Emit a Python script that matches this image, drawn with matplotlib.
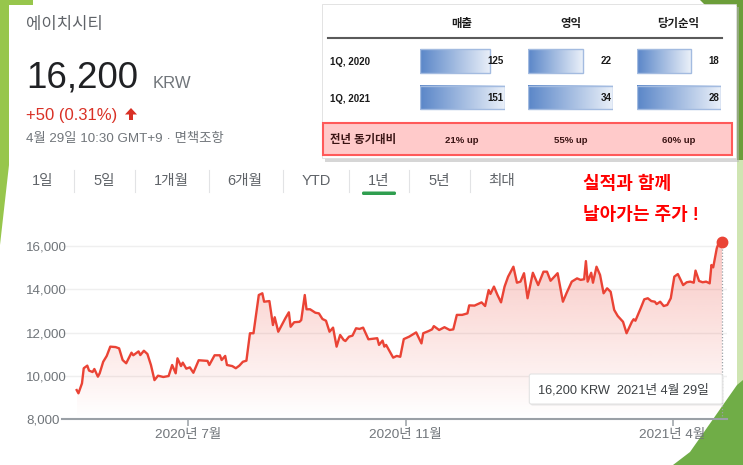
import numpy as np
import matplotlib
matplotlib.use("Agg")
import matplotlib.pyplot as plt
import matplotlib.dates as mdates
from matplotlib.transforms import Affine2D
from matplotlib.patches import Rectangle, Polygon, FancyBboxPatch
from matplotlib.colors import LinearSegmentedColormap, to_rgb
from matplotlib.lines import Line2D
import pandas as pd

# ---------------- data ----------------
company = "에이치시티"
last_price = "16,200"
currency = "KRW"
change_text = "+50 (0.31%)"
timestamp_text = "4월 29일 10:30 GMT+9 · 면책조항"
range_tabs = ["1일", "5일", "1개월", "6개월", "YTD", "1년", "5년", "최대"]
selected_tab = "1년"

start_date = "2020-04-29"
days_since_start = [
    0, 1, 3, 4, 6, 7, 9, 10, 12, 13,
    15, 17, 19, 22, 24, 26, 28, 31, 32, 35,
    36, 38, 40, 42, 44, 46, 49, 52, 54, 56,
    57, 59, 60, 62, 64, 66, 69, 74, 75, 78,
    81, 82, 84, 85, 88, 90, 92, 94, 96, 98,
    100, 103, 105, 106, 109, 111, 112, 114, 116, 118,
    120, 121, 123, 126, 127, 129, 130, 132, 135, 137,
    139, 141, 143, 145, 147, 149, 151, 152, 154, 156,
    158, 160, 162, 165, 170, 171, 173, 174, 175, 179,
    181, 183, 185, 188, 192, 195, 196, 199, 201, 202,
    205, 208, 211, 213, 215, 218, 221, 222, 225, 229,
    231, 233, 234, 236, 238, 240, 242, 244, 247, 249,
    251, 253, 255, 258, 261, 264, 266, 268, 272, 275,
    277, 280, 283, 285, 287, 288, 289, 291, 292, 294,
    296, 298, 300, 302, 304, 306, 309, 311, 314, 315,
    316, 319, 321, 323, 325, 327, 328, 330, 332, 334,
    336, 338, 340, 343, 345, 347, 349, 350, 352, 354,
    356, 358, 359, 360, 362, 363, 365,
]
prices = [
    9340, 9190, 9650, 10350, 10470, 10240, 10175, 10315, 9960, 10115,
    10650, 10920, 11350, 11330, 11270, 10730, 10580, 11070, 10950, 11130,
    10960, 11160, 11010, 10500, 9800, 10005, 9945, 9990, 10500, 10115,
    10810, 10450, 10610, 10330, 10390, 10140, 10720, 10690, 10500, 10950,
    10950, 10730, 10920, 10500, 10450, 10350, 10470, 10650, 10700, 11970,
    11970, 13740, 13820, 13430, 13460, 12350, 12710, 12040, 12350, 12660,
    12940, 12270, 12480, 12500, 12580, 13740, 13080, 13080, 12920, 12890,
    12630, 12550, 12040, 12230, 11350, 11890, 11660, 11610, 11810, 11860,
    12200, 12170, 12230, 11690, 11740, 11430, 11630, 11350, 11430, 10840,
    10920, 10880, 11700, 11810, 12010, 11500, 11970, 12070, 12150, 12300,
    12120, 12250, 12120, 12150, 12820, 12820, 12890, 13260, 13250, 13400,
    13230, 13970, 13790, 14130, 13740, 13400, 14130, 14590, 15050, 14310,
    14360, 14750, 13590, 14770, 14200, 14820, 14820, 14400, 14750, 13430,
    13820, 14360, 14510, 14440, 14470, 15310, 14360, 14770, 14310, 15050,
    14670, 13820, 14050, 13890, 13050, 12770, 12500, 11970, 12500, 12620,
    12550, 13130, 13540, 13590, 13460, 13430, 13320, 13430, 13230, 13280,
    13590, 14590, 14710, 14200, 14330, 14360, 14310, 14870, 14390, 14330,
    14360, 14280, 15130, 15020, 15900, 16130, 16200,
]

xtick_dates = ["2020-07-01", "2020-11-01", "2021-04-01"]
xtick_labels = ["2020년 7월", "2020년 11월", "2021년 4월"]
ytick_values = [8000, 10000, 12000, 14000, 16000]
tooltip_text = "16,200 KRW  2021년 4월 29일"

table_metrics = ["매출", "영익", "당기순익"]
table_periods = ["1Q, 2020", "1Q, 2021"]
sales = [125, 151]
op_income = [22, 34]
net_income = [18, 28]
yoy_label = "전년 동기대비"
yoy_growth = ["21% up", "55% up", "60% up"]
annotation_lines = ["실적과 함께", "날아가는 주가 !"]

# ---------------- setup ----------------
W, H = 743, 465
KFONT = ["Liberation Sans", "Noto Sans CJK KR"]
plt.rcParams["font.family"] = KFONT

fig = plt.figure(figsize=(W / 100, H / 100), dpi=100, facecolor="white")
pix = Affine2D().scale(1 / W, -1 / H).translate(0, 1) + fig.transFigure


def ftext(x, y, s, **kw):
    return fig.text(x, y, s, transform=pix, **kw)


def fpatch(p):
    p.set_transform(pix)
    fig.add_artist(p)
    return p


# ---------- slide decorations ----------
fpatch(Polygon([(0, 0), (33, 0), (33, 5), (9, 5), (9, 165), (0, 245)],
               closed=True, fc="#97c64c", ec="none", zorder=0))
fpatch(Polygon([(700, 0), (743, 0), (743, 160), (737, 160), (737, 6), (706, 6)],
               closed=True, fc="#6c9e3a", ec="none", zorder=0))
fpatch(Polygon([(737, 160), (743, 160), (743, 390), (737, 390)],
               closed=True, fc="#cfe5b2", ec="none", zorder=0))
fpatch(Polygon([(673, 465), (690, 452), (737, 385), (743, 380), (743, 465)],
               closed=True, fc="#70ad47", ec="none", zorder=0))

# ---------- header texts ----------
ftext(26, 25, company, fontsize=12, color="#5f6368", va="center")
ftext(26, 88, last_price, fontsize=26.5, color="#202124", va="baseline")
ftext(153, 88, currency, fontsize=12, color="#70757a", va="baseline")
ftext(26.5, 120, change_text, fontsize=12, color="#d93025", va="baseline")
fpatch(Polygon([(131, 108), (137, 114.5), (133, 114.5), (133, 120), (129, 120),
                (129, 114.5), (125, 114.5)], closed=True, fc="#d93025", ec="none"))
ftext(26.5, 138.5, timestamp_text, fontsize=9.6, color="#70757a", va="center")

# ---------- range tabs ----------
tab_x = [43, 104, 171.5, 245, 316, 379, 439.5, 502]
sep_x = [73.5, 135, 208.5, 283, 349, 409, 470]
for name, x in zip(range_tabs, tab_x):
    ftext(x, 181, name, fontsize=10.5, color="#5f6368", ha="center", va="center")
    if name == selected_tab:
        fpatch(FancyBboxPatch((x - 17, 191.5), 34, 3.5,
                              boxstyle="round,pad=0,rounding_size=1.5",
                              fc="#2f9e4f", ec="none"))
for x in sep_x:
    fig.add_artist(Line2D([x, x], [170, 192], transform=pix, color="#e2e3e5", lw=0.8))

# ---------- annotation ----------
ftext(583, 184, annotation_lines[0], fontsize=13, fontweight="bold",
      color="#ff0000", va="center")
ftext(583, 215, annotation_lines[1], fontsize=13, fontweight="bold",
      color="#ff0000", va="center")

# ---------- main price chart ----------
ax = fig.add_axes([62 / W, 1 - 419 / H, 665 / W, 189 / H])
dates = pd.Timestamp(start_date) + pd.to_timedelta(days_since_start, unit="D")
xn = mdates.date2num(dates.to_pydatetime())
line_color = "#ea4335"

fb = ax.fill_between(xn, prices, 8000, facecolor="none", edgecolor="none")
grad = np.zeros((256, 1, 4))
grad[..., :3] = to_rgb(line_color)
grad[:, 0, 3] = np.linspace(0.0, 0.30, 256)
im = ax.imshow(grad, extent=[xn[0], xn[-1], 8000, max(prices)], origin="lower",
               aspect="auto", zorder=2, interpolation="bilinear")
im.set_clip_path(fb.get_paths()[0], transform=ax.transData)

ax.plot(xn, prices, color=line_color, lw=1.7, solid_joinstyle="round", zorder=4)
ax.vlines(xn[-1], 8000, prices[-1], colors="#9aa0a6", linestyles=(0, (1, 1.5)),
          lw=0.9, zorder=3)
ax.plot([xn[-1]], [prices[-1]], "o", ms=7.5, color=line_color, zorder=5, clip_on=False)

start = pd.Timestamp(start_date)
ax.set_xlim(mdates.date2num(start - pd.Timedelta(days=8.3)),
            mdates.date2num(start + pd.Timedelta(days=367.8)))
ax.set_ylim(8000, 16750)

for s in ["top", "right", "left"]:
    ax.spines[s].set_visible(False)
ax.spines["bottom"].set_color("#9aa0a6")
ax.spines["bottom"].set_linewidth(1.5)
ax.spines["bottom"].set_zorder(6)

ax.set_yticks(ytick_values)
ax.set_yticklabels([f"{v:,}" for v in ytick_values])
ax.yaxis.grid(True, color="#efefef", lw=1)
ax.set_axisbelow(True)
ax.tick_params(axis="y", length=0, pad=25.9, labelsize=9.6, labelcolor="#70757a")
for t in ax.get_yticklabels():
    t.set_horizontalalignment("left")

ax.set_xticks(mdates.date2num(pd.to_datetime(xtick_dates).to_pydatetime()))
ax.set_xticklabels(xtick_labels)
ax.tick_params(axis="x", length=5, width=1.1, color="#9aa0a6", pad=2,
               labelsize=9.7, labelcolor="#70757a")
ax.patch.set_alpha(0)

# tooltip
fpatch(FancyBboxPatch((530.5, 375.5), 193, 30, boxstyle="round,pad=0,rounding_size=2",
                      fc="#d8d8d8", ec="none", alpha=0.6, zorder=7))
fpatch(FancyBboxPatch((529.3, 374), 193, 30, boxstyle="round,pad=0,rounding_size=2",
                      fc="white", ec="#e3e3e3", lw=0.8, zorder=8))
ftext(538.3, 390, tooltip_text, fontsize=9.2, color="#3c4043", va="center", zorder=9)

# ---------- table inset ----------
fpatch(Rectangle((325, 7), 414, 155, fc="#b5b5b5", ec="none", alpha=0.55, zorder=10))
fpatch(Rectangle((322, 4), 414, 154, fc="white", ec="#d8d8d8", lw=0.5, zorder=11))

col_centers = [461.7, 570.5, 678.5]
for name, cx in zip(table_metrics, col_centers):
    ftext(cx, 24, name, fontsize=8.2, fontweight="bold", color="#1a1a1a",
          ha="center", va="center", zorder=12)
fig.add_artist(Line2D([327.7, 722.3], [37.7, 37.7], transform=pix, color="#5a5a5a",
                      lw=1.5, zorder=12))
row_y = [62, 98.5]
for lbl, y in zip(table_periods, row_y):
    ftext(330, y, lbl, fontsize=7, fontweight="bold", color="#1a1a1a",
          va="center", zorder=12)

bar_cmap = LinearSegmentedColormap.from_list("bg", ["#5a86c8", "#eaf0f9"])
hgrad = np.linspace(0, 1, 256).reshape(1, -1)
col_lefts = [420, 528.3, 636.7]
col_widths = [85, 85, 84]
for vals, x0, w in zip([sales, op_income, net_income], col_lefts, col_widths):
    bax = fig.add_axes([x0 / W, 1 - 120 / H, w / W, 80 / H], zorder=12)
    bax.set_axis_off()
    bars = bax.barh([0, 1], vals, height=0.635, fc="none", ec="#a3bbe0", lw=1.0, zorder=3)
    for p in bars.patches:
        bx, by, bw, bh = p.get_x(), p.get_y(), p.get_width(), p.get_height()
        bax.imshow(hgrad, extent=[bx, bx + bw, by + bh, by], aspect="auto",
                   cmap=bar_cmap, zorder=2, interpolation="bilinear")
    bax.set_xlim(0, max(vals))
    bax.set_ylim(1.608, -0.572)
    for i, v in enumerate(vals):
        bax.annotate(str(v), (max(vals), i), xytext=(-1, 0), textcoords="offset points",
                     ha="right", va="center", fontsize=7, fontweight="bold",
                     color="#1a1a1a", zorder=5, annotation_clip=False)

fpatch(Rectangle((322.5, 122.5), 409, 32.5, fc="#ffcaca", ec="#ff5a5a", lw=1.5, zorder=13))
ftext(330, 139.5, yoy_label, fontsize=8.2, fontweight="bold", color="#3a1414",
      va="center", zorder=14)
for g, cx in zip(yoy_growth, col_centers):
    ftext(cx, 140, g, fontsize=6.8, fontweight="bold", color="#3a1414",
          ha="center", va="center", zorder=14)

fig.savefig("out.png", dpi=100, facecolor="white")
